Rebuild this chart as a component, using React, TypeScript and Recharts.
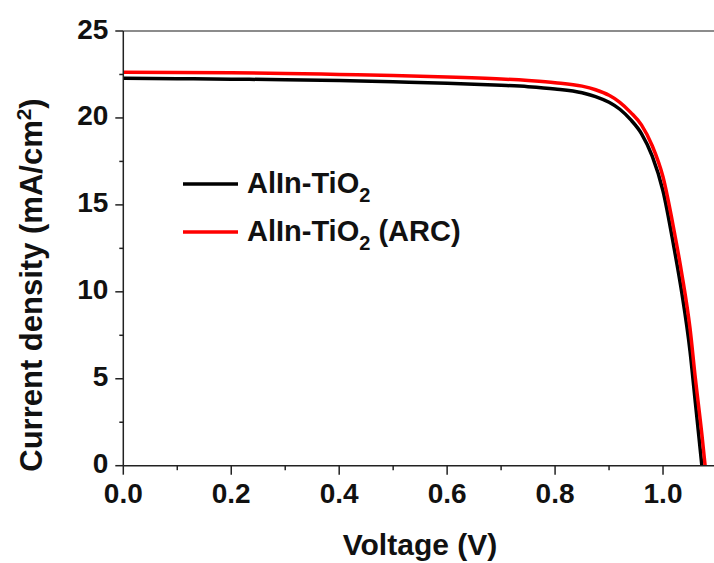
import React from "react";
import { LineChart, Line, XAxis, YAxis, ReferenceLine, Legend } from "recharts";

// ---- data ----
const V_BLACK = [0, 0.1, 0.2, 0.3, 0.4, 0.5, 0.6, 0.7, 0.75, 0.8, 0.85, 0.875, 0.9, 0.92, 0.94, 0.96, 0.98, 1.0, 1.02, 1.035, 1.05, 1.06, 1.072];
const J_BLACK = [22.28, 22.26, 22.23, 22.2, 22.15, 22.08, 22.0, 21.88, 21.8, 21.67, 21.45, 21.23, 20.9, 20.5, 19.9, 19.1, 17.8, 15.8, 12.6, 9.9, 6.6, 3.6, 0];
const V_RED = [0, 0.1, 0.2, 0.3, 0.4, 0.5, 0.6, 0.7, 0.75, 0.8, 0.85, 0.875, 0.9, 0.92, 0.94, 0.96, 0.98, 1.0, 1.02, 1.035, 1.05, 1.06, 1.072, 1.078];
const J_RED = [22.63, 22.62, 22.6, 22.56, 22.5, 22.44, 22.36, 22.24, 22.15, 22.03, 21.83, 21.62, 21.3, 20.9, 20.32, 19.6, 18.4, 16.6, 13.6, 11.0, 7.9, 5.0, 1.8, 0];

const X_TICKS = [0, 0.1, 0.2, 0.3, 0.4, 0.5, 0.6, 0.7, 0.8, 0.9, 1.0, 1.1];
const X_MAJOR = [0, 0.2, 0.4, 0.6, 0.8, 1.0];
const X_LABELS = ["0.0", "0.2", "0.4", "0.6", "0.8", "1.0"];
const Y_TICKS = [0, 2.5, 5, 7.5, 10, 12.5, 15, 17.5, 20, 22.5, 25];
const Y_MAJOR = [0, 5, 10, 15, 20, 25];
const Y_LABELS = ["0", "5", "10", "15", "20", "25"];

const SERIES_NAMES = ["AlIn-TiO", "AlIn-TiO"];
const SERIES_SUFFIX = ["", " (ARC)"];
const COLORS = ["#000000", "#ff0000"];

const blackData = V_BLACK.map((v, i) => ({ v, j: J_BLACK[i] }));
const redData = V_RED.map((v, i) => ({ v, j: J_RED[i] }));

const FONT = "'Liberation Sans', Arial, sans-serif";
const AXIS = "#222";

const findIdx = (arr: number[], v: number) => arr.findIndex((a) => Math.abs(a - v) < 1e-6);

const XTick = (props: any) => {
  const { x, y, payload } = props;
  const idx = findIdx(X_MAJOR, payload.value);
  const major = idx >= 0;
  return (
    <g>
      <line x1={x} y1={y} x2={x} y2={y + (major ? 9 : 4.5)} stroke={AXIS} strokeWidth={1.5} />
      {major && (
        <text x={x} y={y + 37} textAnchor="middle" fontFamily={FONT} fontWeight="bold" fontSize={28} fill="#111">
          {X_LABELS[idx]}
        </text>
      )}
    </g>
  );
};

const YTick = (props: any) => {
  const { x, y, payload } = props;
  const idx = findIdx(Y_MAJOR, payload.value);
  const major = idx >= 0;
  return (
    <g>
      <line x1={x - (major ? 8 : 4)} y1={y} x2={x} y2={y} stroke={AXIS} strokeWidth={1.5} />
      {major && (
        <text x={x - 15} y={y + 7.5} textAnchor="end" fontFamily={FONT} fontWeight="bold" fontSize={28} fill="#111">
          {Y_LABELS[idx]}
        </text>
      )}
    </g>
  );
};

const LegendContent = () => (
  <svg width={714} height={563} style={{ position: "absolute", left: 0, top: 0 }}>
    {SERIES_NAMES.map((name, i) => {
      const ly = 184 + i * 48;
      return (
        <g key={i}>
          <line x1={183} x2={238} y1={ly} y2={ly} stroke={COLORS[i]} strokeWidth={3.5} />
          <text x={247} y={ly + 9} fontFamily={FONT} fontWeight="bold" fontSize={29} fill="#111">
            {name}
            <tspan dy={9} fontSize={20}>2</tspan>
            {SERIES_SUFFIX[i] && <tspan dy={-9}>{SERIES_SUFFIX[i]}</tspan>}
          </text>
        </g>
      );
    })}
  </svg>
);

export default function App() {
  return (
    <div style={{ position: "absolute", left: 0, top: 0, width: 714, height: 563, overflow: "hidden", background: "#fff" }}>
      <LineChart
        width={730}
        height={563}
        margin={{ top: 31, right: 13, left: 63.3, bottom: 67.3 }}
        style={{ position: "absolute", left: 0, top: 0 }}
      >
        <XAxis
          type="number"
          dataKey="v"
          domain={[0, 1.1]}
          ticks={X_TICKS}
          interval={0}
          height={30}
          tickSize={0}
          tickMargin={0}
          tickLine={false}
          tick={<XTick />}
          axisLine={{ stroke: AXIS, strokeWidth: 1.5 }}
          allowDataOverflow
        />
        <YAxis
          type="number"
          domain={[0, 25]}
          ticks={Y_TICKS}
          interval={0}
          width={60}
          tickSize={0}
          tickMargin={0}
          tickLine={false}
          tick={<YTick />}
          axisLine={{ stroke: AXIS, strokeWidth: 1.5 }}
          allowDataOverflow
        />
        <ReferenceLine y={25} stroke="#666" strokeWidth={1.5} />
        <Legend layout="vertical" align="center" verticalAlign="middle" content={<LegendContent />}
          wrapperStyle={{ position: "absolute", left: 0, top: 0, width: 714, height: 563, pointerEvents: "none" }} />
        <Line data={blackData} dataKey="j" type="monotone" stroke={COLORS[0]} strokeWidth={3.5} dot={false} isAnimationActive={false} name="AlIn-TiO2" />
        <Line data={redData} dataKey="j" type="monotone" stroke={COLORS[1]} strokeWidth={3.5} dot={false} isAnimationActive={false} name="AlIn-TiO2 (ARC)" />
        <text x={420} y={555} textAnchor="middle" fontFamily={FONT} fontWeight="bold" fontSize={30} fill="#111">
          Voltage (V)
        </text>
        <text
          x={0}
          y={0}
          transform="translate(42,285) rotate(-90)"
          textAnchor="middle"
          fontFamily={FONT}
          fontWeight="bold"
          fontSize={31}
          fill="#111"
        >
          Current density (mA/cm<tspan dy={-11} fontSize={21}>2</tspan><tspan dy={11}>)</tspan>
        </text>
      </LineChart>
    </div>
  );
}
